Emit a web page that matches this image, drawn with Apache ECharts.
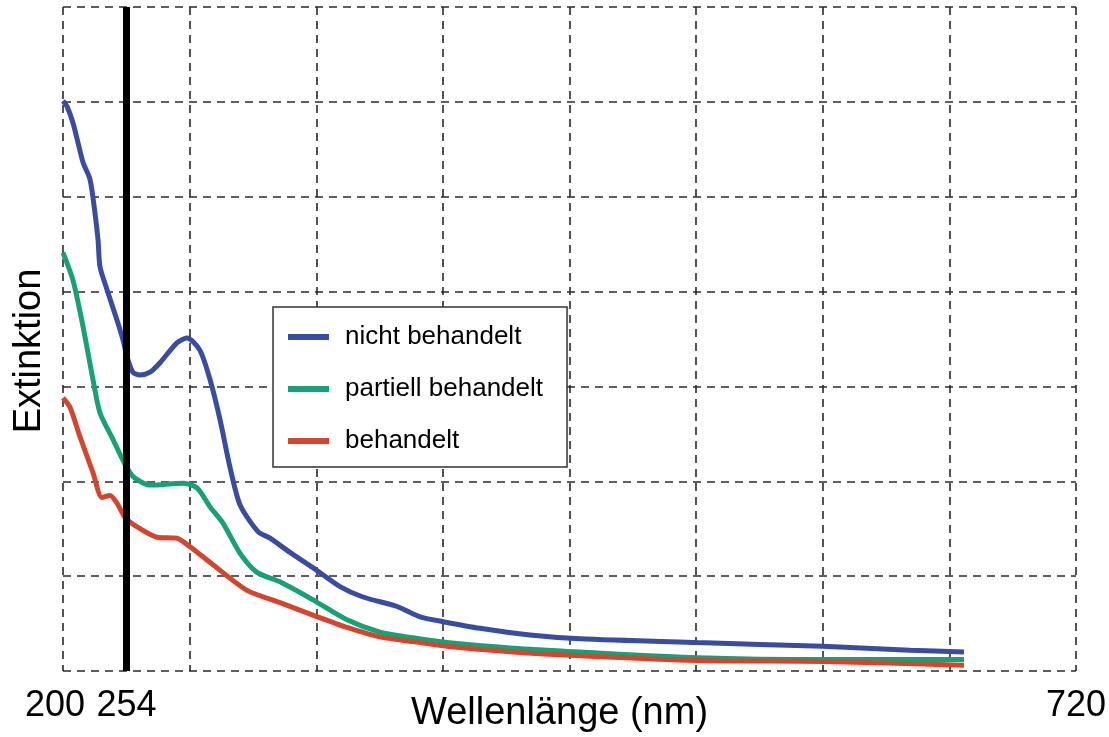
<!DOCTYPE html>
<html>
<head>
<meta charset="utf-8">
<style>
html,body{margin:0;padding:0;background:#fff;}
#chart{width:1109px;height:737px;}
</style>
<script src="https://cdn.jsdelivr.net/npm/echarts@6/dist/echarts.min.js"></script>
</head>
<body>
<div id="chart"></div>
<script>
// ---- data ----
const seriesNames = ['nicht behandelt', 'partiell behandelt', 'behandelt'];

const nichtNm  = [200,202.1,205.1,207.7,210.3,213.9,216.4,218.0,219.0,222.6,227.7,230.8,232.9,235.9,239.5,244.7,249.8,258.5,263.7,270.3,275.5,280.6,285.7,290.9,300.1,306.3,316.5,328.3,342.2,354.0,371.5,383.3,395.1,414.1,439.7,465.4,525.5,590.1,634.8,662.5];
const nichtExt = [6.01,5.95,5.78,5.57,5.36,5.18,4.83,4.54,4.26,4.02,3.70,3.49,3.31,3.15,3.12,3.15,3.25,3.46,3.51,3.38,3.07,2.65,2.15,1.75,1.47,1.40,1.25,1.09,0.89,0.78,0.68,0.57,0.52,0.45,0.38,0.34,0.30,0.26,0.22,0.20];

const partNm  = [200,205.1,210.3,215.4,219.0,225.7,230.8,236.0,244.7,261.6,268.8,275.5,282.1,290.9,299.6,311.4,328.3,345.8,362.7,379.7,397.1,431.0,465.4,525.5,590.1,662.5];
const partExt = [4.41,4.12,3.63,3.07,2.72,2.44,2.22,2.05,1.96,1.98,1.93,1.73,1.56,1.24,1.04,0.94,0.75,0.54,0.41,0.35,0.30,0.24,0.20,0.14,0.12,0.12];

const behNm  = [200,203.6,208.7,215.4,220.0,224.1,227.7,231.8,238.0,248.2,258.5,265.2,277.0,294.5,311.4,328.3,345.8,362.7,379.7,397.1,431.0,465.4,525.5,590.1,662.5];
const behExt = [2.88,2.78,2.47,2.09,1.83,1.85,1.77,1.62,1.52,1.41,1.40,1.31,1.12,0.85,0.72,0.59,0.46,0.36,0.31,0.26,0.20,0.16,0.11,0.10,0.06];

// x tick labels (label text and where they sit on the drawn scale)
const xTickValues = [200, 232.6, 720];
const xTickLabels = ['200', '254', '720'];
const markerValue = 232.6; // black reference line drawn at the "254" label

const xMin = 200, xMax = 720, xStep = 65;
const yMin = 0, yMax = 7, yStep = 1;

// ---- chart ----
const colors = ['#3a4c9f', '#17a174', '#d24630'];
const font = 'Liberation Sans, Arial, sans-serif';
function pairs(xs, ys){ return xs.map((x,i)=>[x, ys[i]]); }

const chart = echarts.init(document.getElementById('chart'), null, {renderer:'canvas'});
const dashed = {color:'#2a2a2a', width:1.6, type:[8,6]};

chart.setOption({
  animation:false,
  backgroundColor:'#fff',
  color: colors,
  grid:{left:63, right:33, top:7, bottom:66, containLabel:false, outerBoundsMode:'none'},
  xAxis:{
    type:'value', min:xMin, max:xMax, interval:xStep,
    axisLine:{show:false}, axisTick:{show:false},
    splitLine:{show:true, lineStyle:dashed},
    axisLabel:{
      show:true, customValues:xTickValues, margin:17,
      fontFamily:font, fontSize:36, color:'#000',
      formatter:function(v){
        const i = xTickValues.indexOf(v);
        const t = i>=0 ? xTickLabels[i] : '';
        return i===0 ? '{l|'+t+'}' : t;
      },
      rich:{l:{fontFamily:font, fontSize:36, color:'#000', padding:[0,16,0,0]}}
    },
    name:'Wellenlänge (nm)', nameLocation:'middle', nameGap:24, nameMoveOverlap:false,
    nameTextStyle:{fontFamily:font, fontSize:38, color:'#000', padding:[0,20,0,0]}
  },
  yAxis:{
    type:'value', min:yMin, max:yMax, interval:yStep,
    axisLine:{show:false}, axisTick:{show:false}, axisLabel:{show:false},
    splitLine:{show:true, lineStyle:dashed},
    name:'Extinktion', nameLocation:'middle', nameGap:14, nameMoveOverlap:false,
    nameTextStyle:{fontFamily:font, fontSize:38, color:'#000', padding:[0,24,0,0]}
  },
  legend:{
    orient:'vertical', left:273, top:307,
    padding:[17,24,13,15], itemGap:26,
    itemWidth:41, itemHeight:6, icon:'rect',
    backgroundColor:'#fff', borderColor:'#333', borderWidth:1.5,
    textStyle:{fontFamily:font, fontSize:26, color:'#000', padding:[0,0,0,11]},
    data:seriesNames
  },
  series:[
    {name:seriesNames[0], type:'line', data:pairs(nichtNm, nichtExt), showSymbol:false, smooth:0.25,
     lineStyle:{width:5}, z:3,
     markLine:{silent:true, symbol:'none', label:{show:false},
       lineStyle:{color:'#000', width:7, type:'solid'},
       data:[{xAxis:markerValue}]}},
    {name:seriesNames[1], type:'line', data:pairs(partNm, partExt), showSymbol:false, smooth:0.25,
     lineStyle:{width:5}, z:3},
    {name:seriesNames[2], type:'line', data:pairs(behNm, behExt), showSymbol:false, smooth:0.25,
     lineStyle:{width:5}, z:3}
  ]
});
</script>
</body>
</html>
